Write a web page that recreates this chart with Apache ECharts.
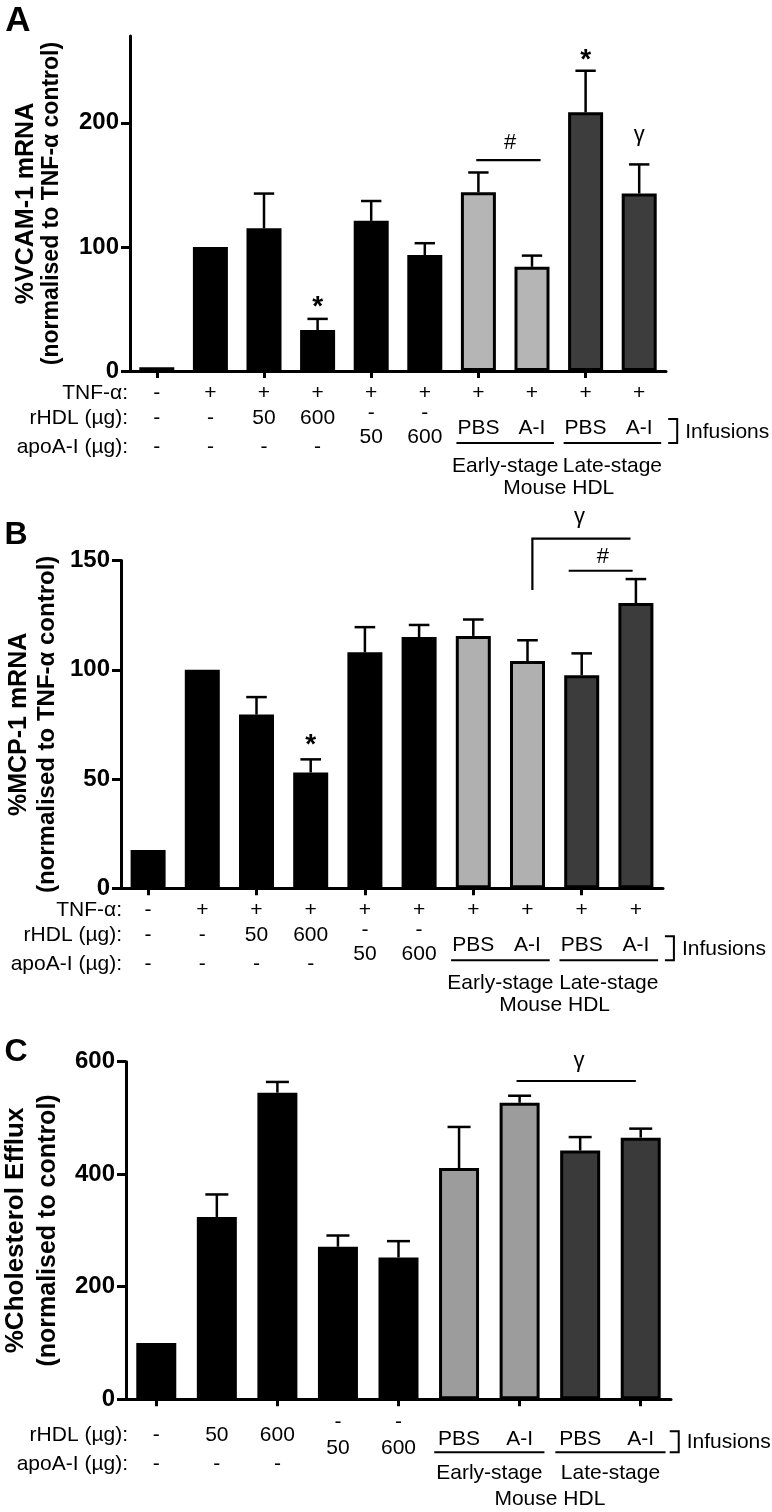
<!DOCTYPE html>
<html><head><meta charset="utf-8">
<script src="https://cdn.jsdelivr.net/npm/echarts@6/dist/echarts.min.js"></script>
<style>html,body{margin:0;padding:0;background:#fff}#c{width:772px;height:1512px}</style>
</head><body><div id="c"></div>
<script>
// ---------------- data ----------------
const catsAB = ['Control','TNF-α','rHDL 50','rHDL 600','apoA-I 50','apoA-I 600','Early PBS','Early A-I','Late PBS','Late A-I'];
const catsC  = ['Control','rHDL 50','rHDL 600','apoA-I 50','apoA-I 600','Early PBS','Early A-I','Late PBS','Late A-I'];
const groupsAB = ['ctrl','ctrl','ctrl','ctrl','ctrl','ctrl','early','early','late','late'];
const groupsC  = ['ctrl','ctrl','ctrl','ctrl','ctrl','early','early','late','late'];

const vcamMean = [3, 100, 115, 33, 121, 93.5, 144, 84, 208.5, 143];
const vcamSEM  = [0, 0, 28, 9, 16, 9.5, 16, 9, 33.5, 23.5];
const mcpMean  = [17.5, 100, 79.5, 53, 108, 115, 115.5, 104, 97.5, 130.5];
const mcpSEM   = [0, 0, 8, 6, 11.5, 5.5, 7.5, 9.5, 10, 11];
const effluxMean = [100, 324, 545, 271, 252, 411, 527, 442, 465];
const effluxSEM  = [0, 40, 19, 20, 29, 73, 12.5, 24, 16];

const ticksA = [0, 100, 200];
const ticksB = [0, 50, 100, 150];
const ticksC = [0, 200, 400, 600];

const tnfRow    = ['-','+','+','+','+','+','+','+','+','+'];
const rhdlRowAB = ['-','-','50','600','-','-','','','',''];
const apoRowAB  = ['-','-','-','-','50','600','','','',''];
const infRowAB  = ['','','','','','','PBS','A-I','PBS','A-I'];
const rhdlRowC  = ['-','50','600','-','-','','','',''];
const apoRowC   = ['-','-','-','50','600','','','',''];
const infRowC   = ['','','','','','PBS','A-I','PBS','A-I'];

// significance marks: [category position, value]
const sigTextA  = [[3, 57, '*'], [8, 256, '*'], [9, 187, 'γ'], [6.59, 184, '#']];
const sigLinesA = [[[5.96, 170], [7.16, 170]]];
const sigTextB  = [[3, 68.5, '*'], [7.96, 168, 'γ'], [8.39, 151.5, '#']];
const sigLinesB = [[[7.09, 136.5], [7.09, 160], [8.9, 160]], [[7.76, 145.3], [8.94, 145.3]]];
const sigTextC  = [[6.98, 594, 'γ']];
const sigLinesC = [[[5.95, 565.7], [7.92, 565.7]]];

// ---------------- layout / style ----------------
const FONT = '"Liberation Sans", Arial, Helvetica, sans-serif';
const rowsAB = {tnf:22, rhdl:47, rhdlRaised:42, apo:76, apoRaised:66, inf:57, underline:72, stage:95, mouse:117, brTop:48, brBot:72};
const rowsC  = {rhdl:36, rhdlRaised:23, apo:65, apoRaised:49, inf:40, underline:53, stage:74, mouse:100, brTop:32, brBot:53};

const panels = [
  {letter:'A', letterPos:[18,21], letterSize:35,
   grid:{left:130, top:36, width:536, height:335}, max:270, ticks:ticksA,
   cats:catsAB, groups:groupsAB, mean:vcamMean, sem:vcamSEM,
   colors:{ctrl:'#000', early:'#b5b5b5', late:'#3d3d3d'}, barW:35,
   title:['%VCAM-1 mRNA','(normalised to TNF-α control)'], tSize:[25,23], tLH:25, nameGap:66,
   rows:rowsAB, tnf:tnfRow, rhdl:rhdlRowAB, apo:apoRowAB, inf:infRowAB, labelX:128,
   sigText:sigTextA, sigLines:sigLinesA},
  {letter:'B', letterPos:[16,535], letterSize:32,
   grid:{left:121, top:560.5, width:542, height:327.8}, max:150, ticks:ticksB,
   cats:catsAB, groups:groupsAB, mean:mcpMean, sem:mcpSEM,
   colors:{ctrl:'#000', early:'#b0b0b0', late:'#3c3c3c'}, barW:35,
   title:['%MCP-1 mRNA','(normalised to TNF-α control)'], tSize:[25,24], tLH:28, nameGap:54,
   rows:rowsAB, tnf:tnfRow, rhdl:rhdlRowAB, apo:apoRowAB, inf:infRowAB, labelX:122,
   sigText:sigTextB, sigLines:sigLinesB},
  {letter:'C', letterPos:[16,1052.5], letterSize:32,
   grid:{left:126, top:1061.7, width:545, height:337.5}, max:600, ticks:ticksC,
   cats:catsC, groups:groupsC, mean:effluxMean, sem:effluxSEM,
   colors:{ctrl:'#000', early:'#9c9c9c', late:'#3a3a3a'}, barW:40,
   title:['%Cholesterol Efflux','(normalised to control)'], tSize:[26,25], tLH:32, nameGap:62,
   rows:rowsC, tnf:null, rhdl:rhdlRowC, apo:apoRowC, inf:infRowC, labelX:128,
   sigText:sigTextC, sigLines:sigLinesC}
];

const chart = echarts.init(document.getElementById('c'), null, {renderer:'canvas'});
const grids=[], xAxes=[], yAxes=[], series=[];

panels.forEach((p,i)=>{
  grids.push(Object.assign({outerBoundsMode:'none', containLabel:false}, p.grid));
  xAxes.push({type:'category', gridIndex:i, data:p.cats, boundaryGap:true,
    axisLine:{show:true, onZero:false, lineStyle:{color:'#000', width:3}},
    axisTick:{show:true, alignWithLabel:true, length:7, lineStyle:{color:'#000', width:3}},
    axisLabel:{show:false}, splitLine:{show:false}});
  yAxes.push({type:'value', gridIndex:i, min:0, max:p.max, interval:p.ticks[1]-p.ticks[0],
    axisLine:{show:true, lineStyle:{color:'#000', width:3}},
    axisTick:{show:true, length:9, lineStyle:{color:'#000', width:3}, customValues:p.ticks},
    axisLabel:{customValues:p.ticks, margin:11, fontFamily:FONT, fontWeight:'bold', fontSize:24, color:'#000',
      formatter:v=> p.ticks.indexOf(v)>=0 ? String(v) : ''},
    splitLine:{show:false},
    name:'{a|'+p.title[0]+'}\n{b|'+p.title[1]+'}', nameLocation:'middle', nameRotate:90, nameGap:p.nameGap,
    nameTextStyle:{color:'#000', rich:{
      a:{fontFamily:FONT, fontWeight:'bold', fontSize:p.tSize[0], lineHeight:p.tLH, color:'#000'},
      b:{fontFamily:FONT, fontWeight:'bold', fontSize:p.tSize[1], lineHeight:p.tLH, color:'#000'}}}});
  series.push({type:'bar', xAxisIndex:i, yAxisIndex:i, barWidth:p.barW, silent:true, animation:false,
    itemStyle:{borderColor:'#000', borderWidth:3},
    data:p.mean.map((v,k)=>({value:v, itemStyle:{color:p.colors[p.groups[k]], borderColor:'#000', borderWidth:3}}))});
  // error bars (upper whisker only)
  series.push({type:'custom', xAxisIndex:i, yAxisIndex:i, clip:false, silent:true, animation:false, z:3,
    data:p.mean.map((m,k)=>[k, m, p.sem[k]]),
    renderItem:(params, api)=>{
      const k=api.value(0), m=api.value(1), e=api.value(2);
      if(!e) return null;
      const p0=api.coord([k,m]), p1=api.coord([k,m+e]);
      const cap=api.size([1,0])[0]*0.19;
      return {type:'group', children:[
        {type:'line', shape:{x1:p0[0],y1:p0[1],x2:p1[0],y2:p1[1]}, style:{stroke:'#000', lineWidth:2.5}},
        {type:'line', shape:{x1:p1[0]-cap,y1:p1[1],x2:p1[0]+cap,y2:p1[1]}, style:{stroke:'#000', lineWidth:2.5}}]};
    }});
  // significance lines
  series.push({type:'custom', xAxisIndex:i, yAxisIndex:i, clip:false, silent:true, animation:false, z:4,
    data:p.sigLines.map((l,k)=>[0, p.sigLines[k][0][1], k]),
    renderItem:(params, api)=>{
      const band=api.size([1,0])[0];
      const pts=p.sigLines[params.dataIndex].map(pt=>{const c=api.coord([0,pt[1]]); return [c[0]+pt[0]*band, c[1]];});
      return {type:'polyline', shape:{points:pts}, style:{stroke:'#000', lineWidth:2.2, fill:null}};
    }});
  // significance symbols
  series.push({type:'custom', xAxisIndex:i, yAxisIndex:i, clip:false, silent:true, animation:false, z:4,
    data:p.sigText.map(s=>[0, s[1]]),
    renderItem:(params, api)=>{
      const s=p.sigText[params.dataIndex];
      const band=api.size([1,0])[0];
      const c=api.coord([0,s[1]]);
      const star = s[2]==='*';
      const dy = star ? 7 : (s[2]==='γ' ? -4 : 0);
      return {type:'text', x:c[0]+s[0]*band, y:c[1]+dy, style:{text:s[2],
        font:(star?'bold 28px ':'22px ')+FONT, fill:'#000', align:'center', verticalAlign:'middle',
        textAlign:'center', textVerticalAlign:'middle'}};
    }});
});

chart.setOption({animation:false, backgroundColor:'#fff', grid:grids, xAxis:xAxes, yAxis:yAxes, series:series});

// ---------------- label table under each panel ----------------
function T(x, y, text, size, align, weight){
  return {type:'text', x:x, y:y, silent:true, style:{text:text, font:(weight||'normal')+' '+size+'px '+FONT, fill:'#000',
    align:align||'center', verticalAlign:'middle', textAlign:align||'center', textVerticalAlign:'middle'}};
}
function L(x1,y1,x2,y2,w){ return {type:'line', silent:true, shape:{x1,y1,x2,y2}, style:{stroke:'#000', lineWidth:w||2}}; }

const gfx=[];
panels.forEach((p,i)=>{
  gfx.push(T(p.letterPos[0], p.letterPos[1], p.letter, p.letterSize, 'center', 'bold'));
  const c0=chart.convertToPixel({gridIndex:i},[0,0]);
  const c1=chart.convertToPixel({gridIndex:i},[1,0]);
  const band=c1[0]-c0[0], yb=c0[1];
  const cx=k=>c0[0]+k*band;
  const R=p.rows, FS=21;
  const n=p.cats.length;
  if(p.tnf){
    gfx.push(T(p.labelX, yb+R.tnf, 'TNF-α:', FS, 'right'));
    p.tnf.forEach((t,k)=>{ if(t) gfx.push(T(cx(k), yb+R.tnf, t, FS)); });
  }
  gfx.push(T(p.labelX, yb+R.rhdl, 'rHDL (µg):', FS, 'right'));
  gfx.push(T(p.labelX, yb+R.apo, 'apoA-I (µg):', FS, 'right'));
  p.rhdl.forEach((t,k)=>{
    if(!t) return;
    const raised = p.apo[k] && p.apo[k]!=='-';
    gfx.push(T(cx(k), yb+(raised?R.rhdlRaised:R.rhdl), t, FS));
  });
  p.apo.forEach((t,k)=>{
    if(!t) return;
    const raised = t!=='-';
    gfx.push(T(cx(k), yb+(raised?R.apoRaised:R.apo), t, FS));
  });
  p.inf.forEach((t,k)=>{ if(t) gfx.push(T(cx(k), yb+R.inf, t, FS)); });
  // stage groups
  const early=[], late=[];
  p.groups.forEach((g,k)=>{ if(g==='early') early.push(k); if(g==='late') late.push(k); });
  [[early,'Early-stage'],[late,'Late-stage']].forEach(([idx,name])=>{
    const a=cx(idx[0]), b=cx(idx[idx.length-1]);
    gfx.push(L(a-0.41*band, yb+R.underline, b+0.41*band, yb+R.underline, 2));
    gfx.push(T((a+b)/2, yb+R.stage, name, FS));
  });
  gfx.push(T((cx(early[0])+cx(late[late.length-1]))/2, yb+R.mouse, 'Mouse HDL', FS));
  // bracket + Infusions
  const bx=cx(n-1)+29;
  gfx.push({type:'polyline', silent:true, shape:{points:[[bx,yb+R.brTop],[bx+9,yb+R.brTop],[bx+9,yb+R.brBot],[bx,yb+R.brBot]]},
    style:{stroke:'#000', lineWidth:2, fill:null}});
  gfx.push(T(bx+17, (yb+R.brTop+yb+R.brBot)/2+1, 'Infusions', FS, 'left'));
});
chart.setOption({graphic:gfx});
</script>
</body></html>
